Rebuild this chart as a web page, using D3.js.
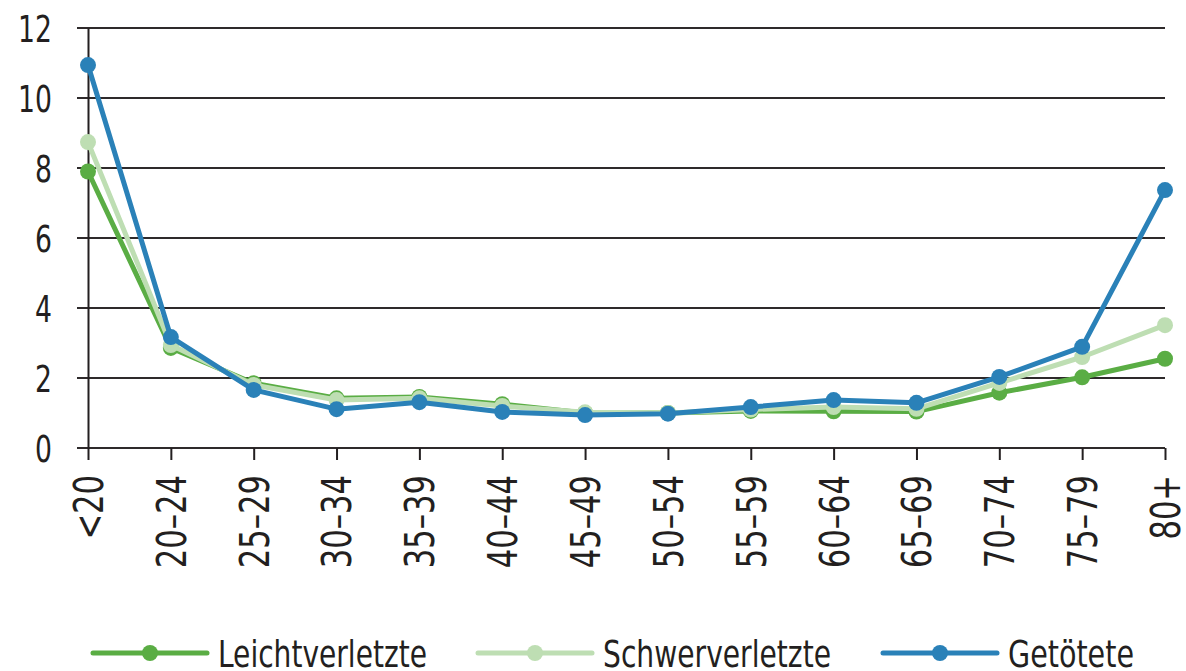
<!DOCTYPE html>
<html>
<head>
<meta charset="utf-8">
<script src="https://cdn.jsdelivr.net/npm/d3@7"></script>
<style>
  body { margin: 0; background: #fff; }
  svg text { font-family: "DejaVu Sans Condensed", "Liberation Sans", sans-serif; fill: #231f20; }
</style>
</head>
<body>
<div id="chart"></div>
<script>
// age groups and rates
var ageGroups = ["<20", "20–24", "25–29", "30–34", "35–39", "40–44", "45–49",
                 "50–54", "55–59", "60–64", "65–69", "70–74", "75–79", "80+"];
var leicht  = [7.9, 2.86, 1.85, 1.42, 1.46, 1.25, 1.0, 1.0, 1.06, 1.05, 1.04, 1.58, 2.02, 2.55];
var schwer  = [8.74, 2.94, 1.8, 1.37, 1.42, 1.2, 1.02, 1.0, 1.1, 1.17, 1.12, 1.86, 2.6, 3.51];
var getoetet = [10.94, 3.17, 1.66, 1.11, 1.31, 1.03, 0.94, 0.98, 1.17, 1.37, 1.29, 2.03, 2.89, 7.37];
var yTicks = [0, 2, 4, 6, 8, 10, 12];
var seriesNames = ["Leichtverletzte", "Schwerverletzte", "Getötete"];
var seriesColors = ["#5aad44", "#bedeb3", "#2a81b8"];

var width = 1186, height = 671;
var margin = {top: 28, right: 21, bottom: 223, left: 88};

var svg = d3.select("#chart").append("svg")
    .attr("width", width)
    .attr("height", height);

// narrow the wide fallback font so it looks like the condensed original
function squeeze(sel, k) {
    sel.each(function() {
        var len = this.getComputedTextLength();
        d3.select(this).attr("textLength", len * k).attr("lengthAdjust", "spacingAndGlyphs");
    });
}

var x = d3.scalePoint()
    .domain(ageGroups)
    .range([margin.left, width - margin.right]);

var y = d3.scaleLinear()
    .domain([0, 12])
    .range([height - margin.bottom, margin.top]);

// gridlines
svg.append("g")
    .selectAll("line")
    .data(yTicks)
    .enter().append("line")
    .attr("x1", margin.left - 11)
    .attr("x2", width - margin.right)
    .attr("y1", function(d) { return y(d); })
    .attr("y2", function(d) { return y(d); })
    .attr("stroke", "#2e2a2b")
    .attr("stroke-width", 2);

// y axis
var yAxis = svg.append("g")
    .attr("transform", "translate(" + margin.left + ",0)")
    .call(d3.axisLeft(y).tickValues(yTicks).tickSize(0).tickPadding(36));
yAxis.select(".domain").attr("stroke", "#231f20").attr("stroke-width", 2);
yAxis.selectAll("text")
    .attr("font-size", 37)
    .attr("font-family", "'DejaVu Sans Condensed', sans-serif")
    .attr("dy", "0.36em")
    .style("fill", "#231f20")
    .call(squeeze, 0.8);

// x axis
var xAxis = svg.append("g")
    .attr("transform", "translate(0," + y(0) + ")")
    .call(d3.axisBottom(x).tickSize(12).tickSizeOuter(0));
xAxis.select(".domain").remove();
xAxis.selectAll("line").attr("stroke", "#231f20").attr("stroke-width", 2);
xAxis.selectAll("text")
    .attr("font-size", 40)
    .attr("font-family", "'DejaVu Sans Condensed', sans-serif")
    .style("fill", "#231f20")
    .attr("text-anchor", "end")
    .attr("transform", "rotate(-90)")
    .attr("x", -27)
    .attr("y", 0)
    .attr("dy", "0.36em")
    .call(squeeze, 0.85);

var series = [leicht, schwer, getoetet];

var line = d3.line()
    .x(function(d, i) { return x(ageGroups[i]); })
    .y(function(d) { return y(d); });

series.forEach(function(vals, k) {
    var g = svg.append("g");
    g.append("path")
        .datum(vals)
        .attr("fill", "none")
        .attr("stroke", seriesColors[k])
        .attr("stroke-width", 5)
        .attr("stroke-linejoin", "round")
        .attr("d", line);
    g.selectAll("circle")
        .data(vals)
        .enter().append("circle")
        .attr("cx", function(d, i) { return x(ageGroups[i]); })
        .attr("cy", function(d) { return y(d); })
        .attr("r", 8)
        .attr("fill", seriesColors[k]);
});

// legend
var legendX = [93, 478, 883];
var legendW = [209, 228, 126];
var legend = svg.append("g").attr("transform", "translate(0,653)");
seriesNames.forEach(function(name, k) {
    var lx = legendX[k];
    legend.append("line")
        .attr("x1", lx).attr("x2", lx + 114)
        .attr("y1", 0).attr("y2", 0)
        .attr("stroke", seriesColors[k])
        .attr("stroke-width", 5)
        .attr("stroke-linecap", "round");
    legend.append("circle")
        .attr("cx", lx + 57).attr("cy", 0)
        .attr("r", 8)
        .attr("fill", seriesColors[k]);
    legend.append("text")
        .attr("x", lx + 125)
        .attr("y", 14)
        .attr("font-size", 38)
        .attr("textLength", legendW[k])
        .attr("lengthAdjust", "spacingAndGlyphs")
        .text(name);
});
</script>
</body>
</html>
